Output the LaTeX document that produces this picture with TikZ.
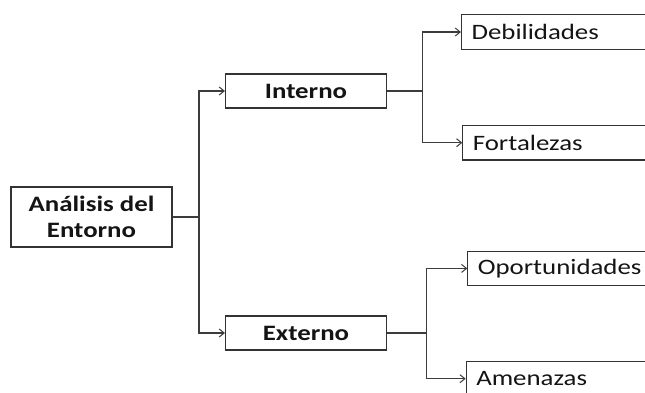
\documentclass[tikz,border=0pt]{standalone}
\usepackage{fontspec}
\setmainfont{Carlito}[FakeStretch=1.22]
\usepackage{xcolor}
\usetikzlibrary{arrows.meta}
\definecolor{edgegray}{HTML}{333333}
\definecolor{linkgray}{HTML}{3C3C3C}
\definecolor{inkblack}{HTML}{141414}

\begin{document}
\begin{tikzpicture}[x=1pt,y=-1pt,
  every node/.style={font=\fontsize{22}{26}\selectfont,text=inkblack},
  box/.style={draw=edgegray,line width=1.1pt,inner sep=0pt,align=center},
  topbox/.style={box,font=\fontsize{22}{26}\selectfont\bfseries,minimum width=161pt,minimum height=34pt},
  leafbox/.style={box,anchor=west,minimum height=34.5pt,text width=190pt,inner xsep=10pt,align=left},
  link/.style={draw=linkgray,line width=1.1pt},
  arrow/.style={link,-{Straight Barb[length=5pt,width=8pt,line width=1pt]}}]
\useasboundingbox (0,0) rectangle (645,392);
\clip (0,0) rectangle (645,392);
\node [box,font=\fontsize{22}{26}\selectfont\bfseries,minimum width=161pt,minimum height=60pt] (main) at (91.5,217) {Análisis del \\ Entorno};
\node [topbox] (int) at (306,91) {Interno};
\node [topbox] (ext) at (306,333) {Externo};
\node [leafbox] (deb) at (461,32) {Debilidades};
\node [leafbox] (fort) at (462.3,142.7) {Fortalezas};
\node [leafbox] (opor) at (467.3,268.4) {Oportunidades};
\node [leafbox] (amen) at (465.7,378.7) {Amenazas};
\coordinate (jmain) at (199,217);
\coordinate (jint) at (422.7,91);
\coordinate (jext) at (426.7,333);
\draw [link] (main.east) -- (jmain);
\draw [arrow] (jmain) |- (int.west);
\draw [arrow] (jmain) |- (ext.west);
\draw [link] (int.east) -- (jint);
\draw [arrow] (jint) |- (deb.west);
\draw [arrow] (jint) |- (fort.west);
\draw [link] (ext.east) -- (jext);
\draw [arrow] (jext) |- (opor.west);
\draw [arrow] (jext) |- (amen.west);
\end{tikzpicture}
\end{document}
